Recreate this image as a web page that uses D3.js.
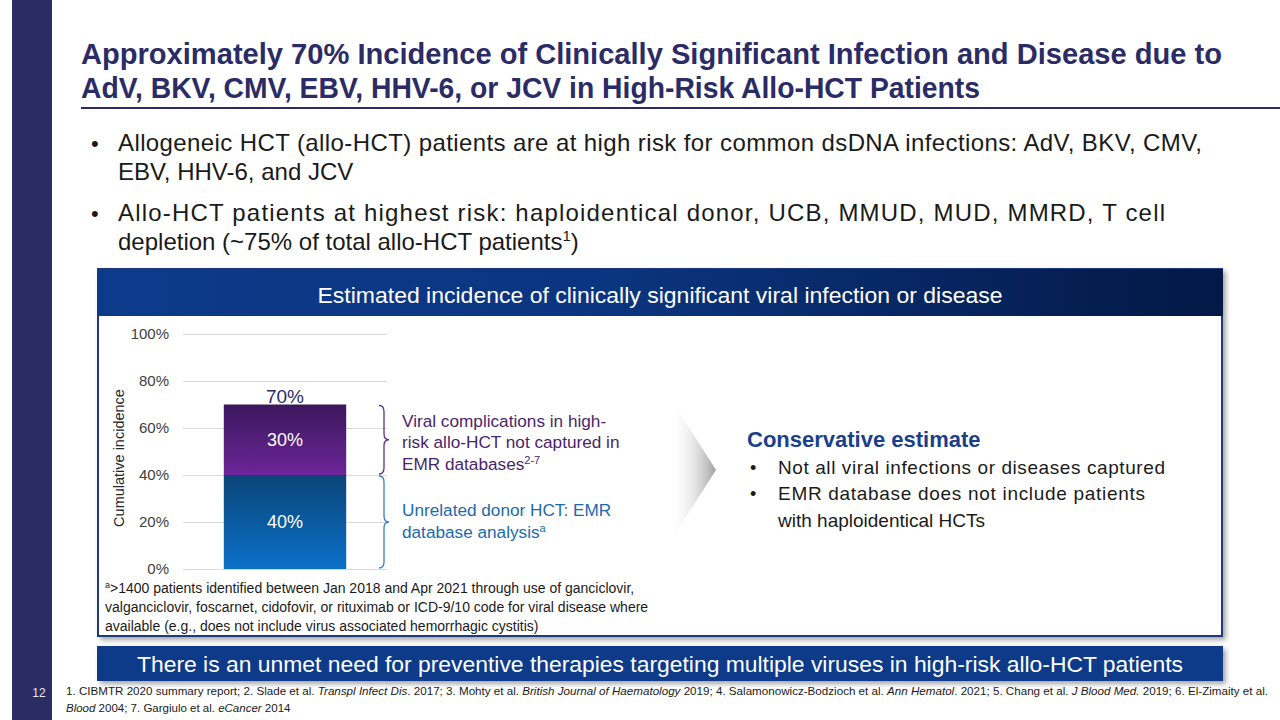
<!DOCTYPE html>
<html>
<head>
<meta charset="utf-8">
<script src="https://cdn.jsdelivr.net/npm/d3@7"></script>
<style>
  html, body { margin: 0; padding: 0; background: #fff; }
  svg { display: block; font-family: "Liberation Sans", Arial, sans-serif; }
</style>
</head>
<body>
<svg width="1280" height="720"></svg>
<script>
// chart values
var segments = ["EMR database analysis", "Not captured in EMR"]
var segmentValues = [40, 30]
var totalLabel = "70%"
var yTicks = [0, 20, 40, 60, 80, 100]
var segmentNotes = [
  ["Unrelated donor HCT: EMR", "database analysis"],
  ["Viral complications in high-", "risk allo-HCT not captured in", "EMR databases"]
]

var navy = "#2b2c66"
var svg = d3.select("svg")
var defs = svg.append("defs")

function lin(id, x2, y2, stops) {
  var g = defs.append("linearGradient").attr("id", id)
    .attr("x1", 0).attr("y1", 0).attr("x2", x2).attr("y2", y2)
  stops.forEach(function (s) { g.append("stop").attr("offset", s[0]).attr("stop-color", s[1]).attr("stop-opacity", s[2] == null ? 1 : s[2]) })
}
lin("hdr", 1, 0, [[0, "#0d3a8a"], [0.45, "#0b3580"], [1, "#031845"]])
lin("blue", 0, 1, [[0, "#0a4478"], [1, "#0a70c8"]])
lin("purple", 0, 1, [[0, "#3b175c"], [1, "#6c2598"]])
lin("chev", 1, 0, [[0, "#ffffff", 0], [1, "#a0a0a0"]])

var sh = defs.append("filter").attr("id", "shadow").attr("x", -0.05).attr("y", -0.05).attr("width", 1.1).attr("height", 1.2)
sh.append("feDropShadow").attr("dx", 3).attr("dy", 3).attr("stdDeviation", 2.5).attr("flood-color", "#000").attr("flood-opacity", 0.35)

// sidebar + page number
svg.append("rect").attr("x", 12).attr("y", 0).attr("width", 40).attr("height", 720).attr("fill", "#2a2c62")
svg.append("text").attr("x", 39).attr("y", 697).attr("text-anchor", "middle")
  .attr("font-size", 12).attr("fill", "#e8e8f0").text("12")

// title
var title = svg.append("g").attr("font-weight", "bold").attr("font-size", 29).attr("fill", navy)
title.append("text").attr("x", 81).attr("y", 64).attr("textLength", 1141).attr("lengthAdjust", "spacingAndGlyphs")
  .text("Approximately 70% Incidence of Clinically Significant Infection and Disease due to")
title.append("text").attr("x", 81).attr("y", 98).attr("textLength", 899).attr("lengthAdjust", "spacingAndGlyphs")
  .text("AdV, BKV, CMV, EBV, HHV-6, or JCV in High-Risk Allo-HCT Patients")
svg.append("line").attr("x1", 81).attr("x2", 1280).attr("y1", 108).attr("y2", 108)
  .attr("stroke", navy).attr("stroke-width", 2)

// bullets
var bl = svg.append("g").attr("font-size", 24).attr("fill", "#1a1a1a")
bl.append("text").attr("x", 91).attr("y", 151).attr("font-size", 22).text("•")
bl.append("text").attr("x", 91).attr("y", 221).attr("font-size", 22).text("•")
bl.append("text").attr("x", 118).attr("y", 151).attr("textLength", 1084)
  .text("Allogeneic HCT (allo-HCT) patients are at high risk for common dsDNA infections: AdV, BKV, CMV,")
bl.append("text").attr("x", 118).attr("y", 180).text("EBV, HHV-6, and JCV")
bl.append("text").attr("x", 118).attr("y", 221).attr("textLength", 1047)
  .text("Allo-HCT patients at highest risk: haploidentical donor, UCB, MMUD, MUD, MMRD, T cell")
var b4 = bl.append("text").attr("x", 118).attr("y", 250)
b4.append("tspan").text("depletion (~75% of total allo-HCT patients")
b4.append("tspan").attr("font-size", 15).attr("dy", -9).text("1")
b4.append("tspan").attr("dy", 9).text(")")

// main panel
svg.append("rect").attr("x", 98).attr("y", 269).attr("width", 1124).attr("height", 367)
  .attr("fill", "#fff").attr("stroke", "#1f3b7a").attr("stroke-width", 2).attr("filter", "url(#shadow)")
svg.append("rect").attr("x", 97).attr("y", 269).attr("width", 1126).attr("height", 47).attr("fill", "url(#hdr)")
svg.append("text").attr("x", 660).attr("y", 303).attr("text-anchor", "middle")
  .attr("font-size", 22).attr("fill", "#fff").attr("textLength", 685).attr("lengthAdjust", "spacingAndGlyphs")
  .text("Estimated incidence of clinically significant viral infection or disease")

// chart
var y = d3.scaleLinear().domain([0, 100]).range([569, 334])
var x = d3.scaleBand().domain(["all"]).range([183, 387]).padding(0.25)

var ax = svg.append("g").attr("transform", "translate(183,0)")
  .call(d3.axisLeft(y).tickValues(yTicks).tickSize(-204).tickPadding(14).tickFormat(function (d) { return d + "%" }))
ax.select(".domain").remove()
ax.selectAll(".tick line").attr("stroke", "#d9d9d9")
ax.selectAll(".tick text").attr("font-size", 15).attr("fill", "#404040").attr("font-family", "'Liberation Sans', Arial, sans-serif")

svg.append("text").attr("transform", "translate(124,458) rotate(-90)").attr("text-anchor", "middle")
  .attr("font-size", 14.5).attr("fill", "#262626").text("Cumulative incidence")

var row = {}
segments.forEach(function (k, i) { row[k] = segmentValues[i] })
var stack = d3.stack().keys(segments)([row])
var fills = ["url(#blue)", "url(#purple)"]

svg.append("g").selectAll("rect").data(stack).join("rect")
  .attr("x", x("all")).attr("width", x.bandwidth())
  .attr("y", function (d) { return y(d[0][1]) })
  .attr("height", function (d) { return y(d[0][0]) - y(d[0][1]) })
  .attr("fill", function (d, i) { return fills[i] })

svg.append("g").selectAll("text").data(stack).join("text")
  .attr("x", x("all") + x.bandwidth() / 2)
  .attr("y", function (d) { return y((d[0][0] + d[0][1]) / 2) + 6 })
  .attr("text-anchor", "middle").attr("font-size", 18).attr("fill", "#fff")
  .text(function (d) { return d[0].data[d.key] + "%" })

svg.append("text").attr("x", x("all") + x.bandwidth() / 2).attr("y", y(d3.sum(segmentValues)) - 2)
  .attr("text-anchor", "middle").attr("font-size", 19).attr("fill", navy).text(totalLabel)

// braces
function brace(x0, y0, y1, w) {
  var m = (y0 + y1) / 2, r = 6
  return "M" + x0 + "," + y0 + "Q" + (x0 + w) + "," + y0 + " " + (x0 + w) + "," + (y0 + r) +
    "V" + (m - r) + "Q" + (x0 + w) + "," + m + " " + (x0 + 2 * w) + "," + m +
    "Q" + (x0 + w) + "," + m + " " + (x0 + w) + "," + (m + r) +
    "V" + (y1 - r) + "Q" + (x0 + w) + "," + y1 + " " + x0 + "," + y1
}
var braceCols = ["#3b7fc4", "#5b3182"]
var noteCols = ["#1b6aae", "#4a1f6c"]
stack.forEach(function (d, i) {
  var top = y(d[0][1]) + 1, bot = y(d[0][0]) - 1
  svg.append("path").attr("d", brace(379, top, bot, 5)).attr("fill", "none")
    .attr("stroke", braceCols[i]).attr("stroke-width", 1.3)
})
var nt0 = svg.append("g").attr("font-size", 17.2).attr("fill", noteCols[0])
nt0.append("text").attr("x", 402).attr("y", 516).text(segmentNotes[0][0])
var n02 = nt0.append("text").attr("x", 402).attr("y", 538)
n02.append("tspan").text(segmentNotes[0][1])
n02.append("tspan").attr("font-size", 11).attr("dy", -6).text("a")
var nt1 = svg.append("g").attr("font-size", 17.2).attr("fill", noteCols[1])
nt1.append("text").attr("x", 402).attr("y", 427).text(segmentNotes[1][0])
nt1.append("text").attr("x", 402).attr("y", 448).text(segmentNotes[1][1])
var n12 = nt1.append("text").attr("x", 402).attr("y", 470)
n12.append("tspan").text(segmentNotes[1][2])
n12.append("tspan").attr("font-size", 11).attr("dy", -6).text("2-7")

// chevron
svg.append("path").attr("d", "M670,398L716,470L670,542Z").attr("fill", "url(#chev)")

// conservative estimate
svg.append("text").attr("x", 747).attr("y", 447).attr("font-size", 22).attr("font-weight", "bold")
  .attr("fill", "#1c3f8c").text("Conservative estimate")
var ce = svg.append("g").attr("font-size", 19).attr("fill", "#1a1a1a")
ce.append("text").attr("x", 750).attr("y", 474).attr("font-size", 18).text("•")
ce.append("text").attr("x", 750).attr("y", 500).attr("font-size", 18).text("•")
ce.append("text").attr("x", 778).attr("y", 474).attr("textLength", 387).text("Not all viral infections or diseases captured")
ce.append("text").attr("x", 778).attr("y", 500).attr("textLength", 367).text("EMR database does not include patients")
ce.append("text").attr("x", 778).attr("y", 527).text("with haploidentical HCTs")

// footnote in panel
var fn = svg.append("g").attr("font-size", 14).attr("fill", "#1a1a1a")
var f1 = fn.append("text").attr("x", 105).attr("y", 593)
f1.append("tspan").attr("font-size", 9).attr("dy", -5).text("a")
f1.append("tspan").attr("dy", 5).text(">1400 patients identified between Jan 2018 and Apr 2021 through use of ganciclovir,")
fn.append("text").attr("x", 105).attr("y", 612).text("valganciclovir, foscarnet, cidofovir, or rituximab or ICD-9/10 code for viral disease where")
fn.append("text").attr("x", 105).attr("y", 631).text("available (e.g., does not include virus associated hemorrhagic cystitis)")

// banner
svg.append("rect").attr("x", 97).attr("y", 646).attr("width", 1126).attr("height", 35)
  .attr("fill", "#0d3a8a").attr("filter", "url(#shadow)")
svg.append("text").attr("x", 660).attr("y", 672).attr("text-anchor", "middle")
  .attr("font-size", 22).attr("fill", "#fff").attr("textLength", 1046).attr("lengthAdjust", "spacingAndGlyphs")
  .text("There is an unmet need for preventive therapies targeting multiple viruses in high-risk allo-HCT patients")

// references
var refs = [
  [["1. CIBMTR 2020 summary report; 2. Slade et al. ", 0], ["Transpl Infect Dis", 1], [". 2017; 3. Mohty et al. ", 0],
   ["British Journal of Haematology", 1], [" 2019; 4. Salamonowicz-Bodzioch et al. ", 0], ["Ann Hematol", 1],
   [". 2021; 5. Chang et al. ", 0], ["J Blood Med.", 1], [" 2019; 6. El-Zimaity et al.", 0]],
  [["Blood", 1], [" 2004; 7. Gargiulo et al. ", 0], ["eCancer", 1], [" 2014", 0]]
]
var rg = svg.append("g").attr("font-size", 11.5).attr("fill", "#1a1a1a")
refs.forEach(function (line, i) {
  var t = rg.append("text").attr("x", 66).attr("y", 695 + i * 17)
  if (i === 0) t.attr("textLength", 1202).attr("lengthAdjust", "spacingAndGlyphs")
  line.forEach(function (p) { t.append("tspan").attr("font-style", p[1] ? "italic" : "normal").text(p[0]) })
})
</script>
</body>
</html>
